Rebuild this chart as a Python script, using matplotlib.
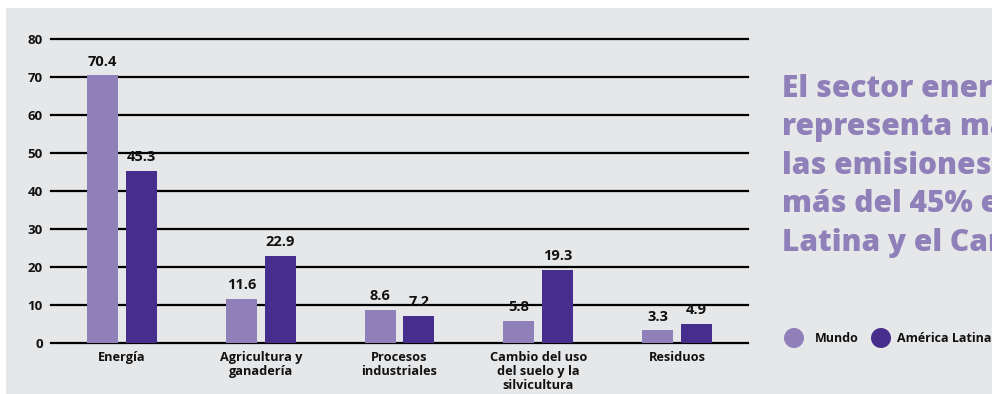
import numpy as np
import matplotlib.pyplot as plt
from matplotlib.patches import Rectangle, Ellipse

# Data
categories = ["Energía", "Agricultura y\nganadería", "Procesos\nindustriales",
              "Cambio del uso\ndel suelo y la\nsilvicultura", "Residuos"]
mundo = [70.4, 11.6, 8.6, 5.8, 3.3]
america_latina = [45.3, 22.9, 7.2, 19.3, 4.9]
series_names = ["Mundo", "América Latina"]
yticks = [0, 10, 20, 30, 40, 50, 60, 70, 80]
headline = ["El sector energético", "representa más de 2/3 de",
            "las emisiones mundiales y", "más del 45% en América",
            "Latina y el Caribe"]

c_mundo = "#8f80ba"
c_al = "#472d8c"
bg = "#e6e7e9"
plt.rcParams['font.family'] = ['Open Sans', 'DejaVu Sans']

fig = plt.figure(figsize=(9.92, 3.94), dpi=100)
fig.patch.set_facecolor("white")
fig.patches.append(Rectangle((6 / 992, 0), 1, 1 - 8 / 394, transform=fig.transFigure,
                             facecolor=bg, edgecolor="none", zorder=-10))

ax = fig.add_axes([51 / 992, 1 - 343 / 394, 697 / 992, 304 / 394])
ax.set_facecolor("none")

x = np.arange(len(categories))
w = 0.223
off = 0.14
b1 = ax.bar(x - off, mundo, w, color=c_mundo, zorder=3)
b2 = ax.bar(x + off, america_latina, w, color=c_al, zorder=3)

for bars, vals in [(b1, mundo), (b2, america_latina)]:
    for b, v in zip(bars, vals):
        ax.annotate(f"{v}", (b.get_x() + b.get_width() / 2, b.get_height()),
                    xytext=(0, 5), textcoords="offset points", ha="center", va="bottom",
                    fontsize=10.5, fontweight="bold", color="#111111")

ax.set_xlim(-0.512, 4.512)
ax.set_ylim(0, 80)
ax.set_yticks(yticks)
for t in yticks:
    ax.axhline(t, color="black", lw=1.6, zorder=2, clip_on=False)
ax.set_xticks(x)
ax.set_xticklabels(categories, fontsize=9.2, fontweight="bold", linespacing=1.1)
for lbl in ax.get_yticklabels():
    lbl.set_fontweight("bold")
    lbl.set_fontsize(9.5)
ax.tick_params(axis="both", length=0, colors="#111111")
ax.tick_params(axis="y", pad=6)
ax.tick_params(axis="x", pad=6)
for s in ax.spines.values():
    s.set_visible(False)

# Headline text on the right (cut by the right edge, as in the original)
for i, line in enumerate(headline):
    fig.text(782 / 992, 1 - (89 + 38.5 * i) / 394, line, fontsize=21.5, fontweight="heavy",
             color=c_mundo, va="center", ha="left")

# Legend
for cx, col, name, tx in [(794, c_mundo, series_names[0], 815), (881, c_al, series_names[1], 897)]:
    fig.patches.append(Ellipse((cx / 992, 1 - 338 / 394), 20 / 992, 20 / 394,
                               transform=fig.transFigure, facecolor=col, edgecolor="none"))
    fig.text(tx / 992, 1 - 338 / 394, name, fontsize=9, fontweight="bold",
             color="#111111", va="center", ha="left")

fig.savefig("out.png", dpi=100)
